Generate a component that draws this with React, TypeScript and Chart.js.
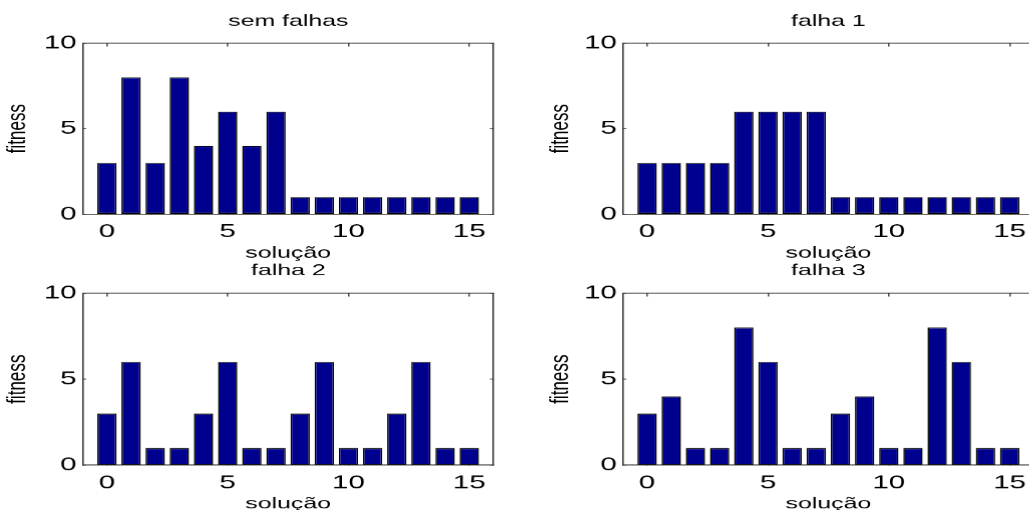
import React, { useEffect, useRef } from "react";
import { Chart, registerables } from "chart.js";

Chart.register(...registerables);

// ---------- data ----------
const solutions = [0, 1, 2, 3, 4, 5, 6, 7, 8, 9, 10, 11, 12, 13, 14, 15];
const fitnessSemFalhas = [3, 8, 3, 8, 4, 6, 4, 6, 1, 1, 1, 1, 1, 1, 1, 1];
const fitnessFalha1 = [3, 3, 3, 3, 6, 6, 6, 6, 1, 1, 1, 1, 1, 1, 1, 1];
const fitnessFalha2 = [3, 6, 1, 1, 3, 6, 1, 1, 3, 6, 1, 1, 3, 6, 1, 1];
const fitnessFalha3 = [3, 4, 1, 1, 8, 6, 1, 1, 3, 4, 1, 1, 8, 6, 1, 1];
const xTickValues = [0, 5, 10, 15];
const yTickValues = [0, 5, 10];
const xMin = -1;
const xMax = 16;
const yMin = 0;
const yMax = 10;
const panelTitles = ["sem falhas", "falha 1", "falha 2", "falha 3"];
const xAxisLabel = "solução";
const yAxisLabel = "fitness";

// ---------- style / layout ----------
const FONT = "'Liberation Sans', Arial, Helvetica, sans-serif";
const BAR_FILL = "#00008F";
const BAR_EDGE = "#000000";
const BOX_COLOR = "#333333";
const TICK_COLOR = "#555555";
const STRETCH = 1.55; // the figure is drawn horizontally stretched
const TITLE_SIZE = 16;
const XLABEL_SIZE = 16;
const YLABEL_SIZE = 17;
const TICK_SIZE = 19;
const TITLE_LH = TITLE_SIZE * 1.2;
const XLABEL_LH = XLABEL_SIZE * 1.2;
const YLABEL_LH = YLABEL_SIZE * 1.2;
const TICK_LH = TICK_SIZE * 1.2;
const TICK_MARK = 3.5; // inward tick mark length on screen
const Y_TICK_GAP = 6; // gap between y tick labels and box (screen px)
const X_TICK_MID_OFFSET = 17.7;

type PanelSpec = {
  canvasLeft: number;
  canvasTop: number;
  canvasWidth: number;
  canvasHeight: number;
  areaLeft: number;
  areaRight: number;
  areaTop: number;
  areaBottom: number;
  titleMid: number;
  yLabelMid: number;
  xLabelMid: number;
};

const panelSpecs: PanelSpec[] = [
  { canvasLeft: 0, canvasTop: 0, canvasWidth: 576, canvasHeight: 270, areaLeft: 82.5, areaRight: 493, areaTop: 43, areaBottom: 214, titleMid: 21.2, yLabelMid: 18.2, xLabelMid: 252.8 },
  { canvasLeft: 540, canvasTop: 0, canvasWidth: 576, canvasHeight: 270, areaLeft: 622.7, areaRight: 1033.4, areaTop: 43, areaBottom: 214, titleMid: 21.2, yLabelMid: 561, xLabelMid: 252.8 },
  { canvasLeft: 0, canvasTop: 250, canvasWidth: 576, canvasHeight: 270, areaLeft: 82.5, areaRight: 493, areaTop: 293, areaBottom: 465, titleMid: 270.8, yLabelMid: 18.2, xLabelMid: 503.8 },
  { canvasLeft: 540, canvasTop: 250, canvasWidth: 576, canvasHeight: 270, areaLeft: 622.7, areaRight: 1033.4, areaTop: 293, areaBottom: 465, titleMid: 270.8, yLabelMid: 561, xLabelMid: 503.8 },
];

const panelValues = [fitnessSemFalhas, fitnessFalha1, fitnessFalha2, fitnessFalha3];

function Panel({ spec, title, values }: { spec: PanelSpec; title: string; values: number[] }) {
  const ref = useRef<HTMLCanvasElement | null>(null);
  const logicalWidth = spec.canvasWidth / STRETCH;

  useEffect(() => {
    const canvas = ref.current;
    if (!canvas) return;
    const s = spec;
    const k = STRETCH;
    const yAxisWidth = (s.areaLeft - s.canvasLeft) / k;
    const rightWidth = (s.canvasLeft + s.canvasWidth - s.areaRight) / k;
    const titlePadTop = s.titleMid - s.canvasTop - TITLE_LH / 2;
    const titlePadBottom = s.areaTop - s.canvasTop - TITLE_LH - titlePadTop;
    const xAxisHeight = s.canvasTop + s.canvasHeight - s.areaBottom;
    const xTitlePadBottom = s.canvasTop + s.canvasHeight - XLABEL_LH / 2 - s.xLabelMid;
    const yTitlePadTop = (s.yLabelMid - s.canvasLeft) / k - YLABEL_LH / 2;
    const xTickLen = -TICK_MARK;
    const yTickLen = -TICK_MARK / k;
    const xTickPad = X_TICK_MID_OFFSET - xTickLen - TICK_LH / 2;
    const yTickPad = Y_TICK_GAP / k - yTickLen;

    const xGrid = {
      drawOnChartArea: false,
      drawTicks: true,
      tickLength: xTickLen,
      color: TICK_COLOR,
      lineWidth: 1,
      offset: false,
    };
    const yGrid = { ...xGrid, tickLength: yTickLen };
    const border = { display: true, color: BOX_COLOR, width: 1 };

    const chart = new Chart(canvas, {
      type: "bar",
      data: {
        datasets: [
          {
            data: solutions.map((x, i) => ({ x, y: values[i] })),
            backgroundColor: BAR_FILL,
            borderColor: BAR_EDGE,
            borderWidth: 1,
            borderSkipped: false,
            barPercentage: 0.8,
            categoryPercentage: 1,
          } as any,
        ],
      },
      options: {
        responsive: false,
        animation: false,
        events: [],
        devicePixelRatio: STRETCH,
        layout: { padding: 0 },
        plugins: {
          legend: { display: false },
          tooltip: { enabled: false },
          title: {
            display: true,
            text: title,
            color: "#000",
            font: { family: FONT, size: TITLE_SIZE, weight: "normal" },
            padding: { top: titlePadTop, bottom: titlePadBottom },
          },
        },
        scales: {
          x: {
            type: "linear",
            axis: "x",
            position: "bottom",
            min: xMin,
            max: xMax,
            offset: false,
            grid: xGrid,
            border,
            afterBuildTicks: (sc: any) => {
              sc.ticks = xTickValues.map((v) => ({ value: v }));
            },
            afterFit: (sc: any) => {
              sc.height = xAxisHeight;
            },
            ticks: {
              color: "#000",
              font: { family: FONT, size: TICK_SIZE },
              padding: xTickPad,
              maxRotation: 0,
              autoSkip: false,
            },
            title: {
              display: true,
              text: xAxisLabel,
              color: "#000",
              font: { family: FONT, size: XLABEL_SIZE },
              padding: { top: 0, bottom: xTitlePadBottom },
            },
          },
          x2: {
            type: "linear",
            axis: "x",
            position: "top",
            min: xMin,
            max: xMax,
            offset: false,
            grid: xGrid,
            border,
            afterBuildTicks: (sc: any) => {
              sc.ticks = xTickValues.map((v) => ({ value: v }));
            },
            afterFit: (sc: any) => {
              sc.height = 0;
            },
            ticks: { display: false },
          },
          y: {
            type: "linear",
            axis: "y",
            position: "left",
            min: yMin,
            max: yMax,
            grid: yGrid,
            border,
            afterBuildTicks: (sc: any) => {
              sc.ticks = yTickValues.map((v) => ({ value: v }));
            },
            afterFit: (sc: any) => {
              sc.width = yAxisWidth;
            },
            ticks: {
              color: "#000",
              font: { family: FONT, size: TICK_SIZE },
              padding: yTickPad,
            },
            title: {
              display: true,
              text: yAxisLabel,
              color: "#000",
              font: { family: FONT, size: YLABEL_SIZE },
              padding: { top: yTitlePadTop, bottom: 0 },
            },
          },
          y2: {
            type: "linear",
            axis: "y",
            position: "right",
            min: yMin,
            max: yMax,
            grid: yGrid,
            border,
            afterBuildTicks: (sc: any) => {
              sc.ticks = yTickValues.map((v) => ({ value: v }));
            },
            afterFit: (sc: any) => {
              sc.width = rightWidth;
            },
            ticks: { display: false },
          },
        },
      } as any,
    });

    return () => {
      chart.destroy();
    };
  }, [spec, title, values]);

  return (
    <canvas
      ref={ref}
      width={logicalWidth}
      height={spec.canvasHeight}
      style={{
        position: "absolute",
        left: spec.canvasLeft,
        top: spec.canvasTop,
        width: logicalWidth,
        height: spec.canvasHeight,
        transform: `scaleX(${STRETCH})`,
        transformOrigin: "0 0",
      }}
    />
  );
}

export default function App() {
  return (
    <div
      style={{
        position: "absolute",
        left: 0,
        top: 0,
        width: 1029,
        height: 510,
        overflow: "hidden",
        background: "#ffffff",
      }}
    >
      {panelSpecs.map((spec, i) => (
        <Panel key={i} spec={spec} title={panelTitles[i]} values={panelValues[i]} />
      ))}
    </div>
  );
}
